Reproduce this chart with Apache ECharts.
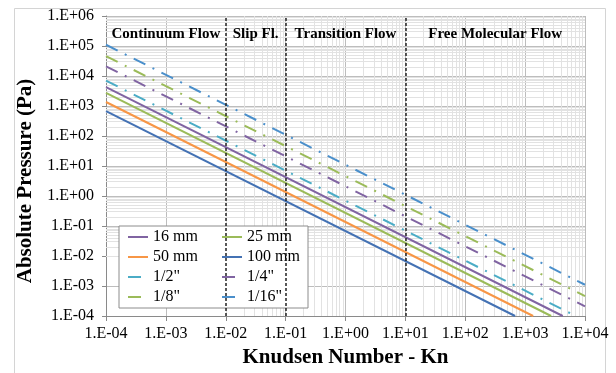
<!DOCTYPE html>
<html>
<head>
<meta charset="utf-8">
<script src="https://cdn.jsdelivr.net/npm/echarts@6/dist/echarts.min.js"></script>
<style>
html, body { margin: 0; padding: 0; background: #fff; }
#chart { width: 616px; height: 373px; }
</style>
</head>
<body>
<div id="chart"></div>
<script>
// pressure lines: one straight segment per tube size (log-log)
const names = ['16 mm', '25 mm', '50 mm', '100 mm', '1/2"', '1/4"', '1/8"', '1/16"']
const knStart = [1e-4, 1e-4, 1e-4, 1e-4, 1e-4, 1e-4, 1e-4, 1e-4]
const pStart = [4250, 2720, 1360, 680, 7000, 21000, 46000, 110000]
const knEnd = [4250, 2720, 1360, 680, 7000, 1e4, 1e4, 1e4]
const pEnd = [1e-4, 1e-4, 1e-4, 1e-4, 1e-4, 2.1e-4, 4.6e-4, 1.1e-3]

const xLabels = ['1.E-04', '1.E-03', '1.E-02', '1.E-01', '1.E+00', '1.E+01', '1.E+02', '1.E+03', '1.E+04']
const yLabels = ['1.E-04', '1.E-03', '1.E-02', '1.E-01', '1.E+00', '1.E+01', '1.E+02', '1.E+03', '1.E+04', '1.E+05', '1.E+06']

const regionNames = ['Continuum Flow', 'Slip Fl.', 'Transition Flow', 'Free Molecular Flow']
const regionBounds = [1e-4, 1e-2, 1e-1, 1e1, 1e4]

const colors = ['#8064A2', '#9BBB59', '#F79646', '#4472B4', '#4BACC6', '#8064A2', '#9BBB59', '#4A8FCB']
const dashDot = [13, 8, 2, 8]
const font = 'Liberation Serif'

// light minor grid lines at 2..9 of each decade
let minorX = [], minorY = []
for (let e = -4; e < 4; e++) for (let m = 2; m < 10; m++) minorX.push({ xAxis: m * Math.pow(10, e) })
for (let e = -4; e < 6; e++) for (let m = 2; m < 10; m++) minorY.push({ yAxis: m * Math.pow(10, e) })

let series = []
series.push({
    name: '_grid',
    type: 'line',
    data: [],
    z: 1,
    silent: true,
    markLine: {
        z: 1, silent: true, symbol: 'none', animation: false,
        label: { show: false },
        lineStyle: { color: '#e2e2e2', width: 1, type: 'solid' },
        data: minorX.concat(minorY),
    },
})
for (let i = 0; i < names.length; i++) {
    series.push({
        name: names[i],
        type: 'line',
        data: [[knStart[i], pStart[i]], [knEnd[i], pEnd[i]]],
        symbol: 'none',
        z: 3,
        color: colors[i],
        lineStyle: { width: 2, color: colors[i], type: i < 4 ? 'solid' : dashDot },
    })
}
let areas = []
for (let i = 0; i < regionNames.length; i++) {
    areas.push([{ name: regionNames[i], xAxis: regionBounds[i] }, { xAxis: regionBounds[i + 1] }])
}
series.push({
    name: '_regions',
    type: 'line',
    data: [],
    z: 4,
    silent: true,
    markArea: {
        z: 6, silent: true,
        itemStyle: { color: 'rgba(0,0,0,0)' },
        label: {
            show: true, position: 'insideTop', distance: 11,
            fontFamily: font, fontWeight: 'bold', fontSize: 15, color: '#000',
        },
        data: areas,
    },
    markLine: {
        z: 5, silent: true, symbol: 'none', animation: false,
        label: { show: false },
        lineStyle: { color: '#222', width: 1.5, type: [3, 2] },
        data: regionBounds.slice(1, 4).map(v => ({ xAxis: v })),
    },
})

const chart = echarts.init(document.getElementById('chart'), null, { renderer: 'canvas' })
chart.setOption({
    animation: false,
    backgroundColor: '#fff',
    grid: { left: 106, right: 31, top: 16, bottom: 57 },
    graphic: [{
        type: 'rect', left: 12, top: 6, z: -1, silent: true,
        shape: { width: 591, height: 400 },
        style: { fill: 'none', stroke: '#d4d4d4', lineWidth: 1 },
    }],
    legend: {
        data: names,
        left: 119, top: 226, width: 180,
        orient: 'horizontal',
        itemWidth: 20, itemHeight: 10, itemGap: 4,
        padding: [3, 7, 3, 8],
        backgroundColor: '#fff', borderColor: '#8c8c8c', borderWidth: 1, borderRadius: 0,
        itemStyle: { opacity: 0 },
        // left column gets a wider text box so the right column lines up
        formatter: n => (names.indexOf(n) % 2 === 0 ? '{a|' : '{b|') + n + '}',
        textStyle: {
            fontFamily: font, fontSize: 16, color: '#000',
            rich: {
                a: { width: 64, lineHeight: 16, fontFamily: font, fontSize: 16, color: '#000' },
                b: { width: 54, lineHeight: 16, fontFamily: font, fontSize: 16, color: '#000' },
            },
        },
    },
    xAxis: {
        type: 'log', logBase: 10, min: 1e-4, max: 1e4, splitNumber: 8,
        name: 'Knudsen Number - Kn', nameLocation: 'middle', nameGap: 28,
        nameTextStyle: { fontFamily: font, fontWeight: 'bold', fontSize: 21, color: '#000' },
        axisLine: { lineStyle: { color: '#8a8a8a' } },
        axisTick: { show: true, length: 5, lineStyle: { color: '#8a8a8a' } },
        axisLabel: {
            fontFamily: font, fontSize: 16, color: '#000', margin: 10,
            formatter: v => xLabels[Math.round(Math.log10(v)) + 4],
        },
        splitLine: { show: true, lineStyle: { color: '#bdbdbd' } },
    },
    yAxis: {
        type: 'log', logBase: 10, min: 1e-4, max: 1e6, splitNumber: 10,
        name: 'Absolute Pressure (Pa)', nameLocation: 'middle', nameGap: 68,
        nameTextStyle: { fontFamily: font, fontWeight: 'bold', fontSize: 21, color: '#000', padding: [0, 30, 0, 0] },
        axisLine: { show: true, lineStyle: { color: '#8a8a8a' } },
        axisTick: { show: true, length: 4, lineStyle: { color: '#8a8a8a' } },
        axisLabel: {
            fontFamily: font, fontSize: 16, color: '#000', margin: 12,
            formatter: v => yLabels[Math.round(Math.log10(v)) + 4],
        },
        splitLine: { show: true, lineStyle: { color: '#bdbdbd' } },
    },
    series: series,
})
</script>
</body>
</html>
